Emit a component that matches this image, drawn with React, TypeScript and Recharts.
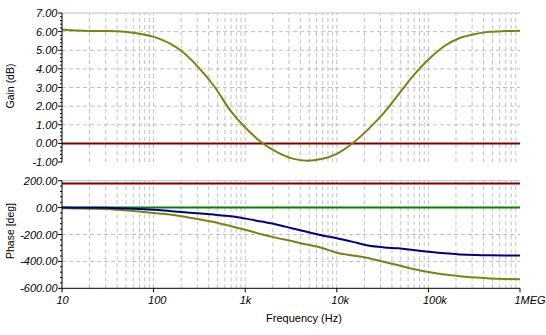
import React from "react";
import {
  LineChart,
  Line,
  XAxis,
  YAxis,
  ReferenceLine,
  Label,
} from "recharts";

// frequency points (Hz) the curves were read at
const FREQ = [
  10, 15, 20, 30, 40, 60, 100, 150, 200, 300, 450, 700, 1000, 1500, 2200, 3300,
  4700, 6800, 10000, 15000, 22000, 33000, 47000, 68000, 100000, 150000, 220000,
  330000, 470000, 680000, 1000000,
];

const GAIN_DB = [
  6.12, 6.06, 6.04, 6.03, 6.02, 5.94, 5.72, 5.37, 4.97, 4.15, 3.12, 1.72, 0.85,
  0.06, -0.46, -0.82, -0.93, -0.84, -0.56, 0.02, 0.75, 1.66, 2.62, 3.62, 4.5,
  5.23, 5.66, 5.88, 5.99, 6.03, 6.05,
];

const PHASE_BLUE = [
  0, -1, -1, -2, -4, -8, -16, -26, -33, -42, -52, -65, -82, -104, -125, -155,
  -180, -205, -228, -255, -282, -296, -303, -315, -328, -340, -348, -353, -355,
  -356, -356,
];

const PHASE_OLIVE = [
  -4, -6, -8, -11, -16, -25, -40, -52, -64, -85, -107, -138, -165, -198, -225,
  -250, -275, -298, -335, -356, -375, -405, -428, -457, -479, -498, -510, -520,
  -527, -531, -533,
];

const GAIN_REF = 0;
const PHASE_REF_HI = 180;
const PHASE_REF_ZERO = 0;

const FREQ_TICKS = [10, 100, 1000, 10000, 100000, 1000000];
const FREQ_LABELS = ["10", "100", "1k", "10k", "100k", "1MEG"];
const GAIN_TICKS = [-1, 0, 1, 2, 3, 4, 5, 6, 7];
const PHASE_TICKS = [-600, -400, -200, 0, 200];

const OLIVE = "#808010";
const RED = "#800000";
const NAVY = "#000080";
const GREEN = "#008000";
const GRID = "#c0c0c0";
const FONT = "'Liberation Sans', Arial, sans-serif";

const gainData = FREQ.map((f, i) => ({ f, gain: GAIN_DB[i] }));
const phaseData = FREQ.map((f, i) => ({
  f,
  blue: PHASE_BLUE[i],
  olive: PHASE_OLIVE[i],
}));

// log grid: 2..9 in each decade plus the decades themselves
const minorFreq: number[] = [];
for (let d = 10; d < 1000000; d *= 10) {
  for (let k = 1; k <= 9; k++) {
    if (d * k > 10) minorFreq.push(d * k);
  }
}

const subdivide = (major: number[], parts: number) => {
  const out: number[] = [];
  for (let i = 0; i < major.length - 1; i++) {
    const step = (major[i + 1] - major[i]) / parts;
    for (let k = 0; k < parts; k++) out.push(Math.round((major[i] + k * step) * 100) / 100);
  }
  out.push(major[major.length - 1]);
  return out;
};

const gainTickAll = subdivide(GAIN_TICKS, 5);
const phaseTickAll = subdivide(PHASE_TICKS, 5);

function YTick(props: any) {
  const { x, y, payload, majors } = props;
  const v = payload.value;
  const isMajor = majors.includes(v);
  return (
    <g>
      <line x1={x - (isMajor ? 4 : 2)} x2={x} y1={y} y2={y} stroke="#000" />
      {isMajor && (
        <text
          x={x - 4.5}
          y={y + 4}
          textAnchor="end"
          fontSize={11}
          fontStyle="italic"
          fontFamily={FONT}
          fill="#000"
        >
          {v.toFixed(2)}
        </text>
      )}
    </g>
  );
}

function XTick(props: any) {
  const { x, y, payload } = props;
  const idx = FREQ_TICKS.indexOf(payload.value);
  return (
    <text
      x={x - 5.5}
      y={y + 12}
      textAnchor="start"
      fontSize={11}
      fontStyle="italic"
      fontFamily={FONT}
      fill="#000"
    >
      {FREQ_LABELS[idx]}
    </text>
  );
}

const axisTitle = (text: string, x: number, y: number) => () => (
  <text
    x={x}
    y={y}
    transform={`rotate(-90, ${x}, ${y})`}
    textAnchor="middle"
    dominantBaseline="central"
    fontSize={10.5}
    fontFamily={FONT}
    fill="#000"
  >
    {text}
  </text>
);

const gridV = (key: string) =>
  minorFreq.map((f) => (
    <ReferenceLine
      key={key + f}
      x={f}
      stroke={f === 1000000 ? GRID : GRID}
      strokeDasharray={f === 1000000 ? undefined : "4 3"}
    />
  ));

export default function App() {
  return (
    <div style={{ position: "absolute", left: 0, top: 0, width: 546, height: 335, background: "#fff" }}>
      <LineChart
        width={546}
        height={170}
        data={gainData}
        margin={{ top: 13, right: 26, bottom: 8, left: 0 }}
      >
        <XAxis
          dataKey="f"
          type="number"
          scale="log"
          domain={[10, 1000000]}
          ticks={FREQ_TICKS}
          height={0}
          tick={false}
          tickLine={false}
          axisLine={{ stroke: "#000" }}
          allowDataOverflow
        />
        <YAxis
          type="number"
          domain={[-1, 7]}
          ticks={gainTickAll}
          interval={0}
          width={62}
          tickSize={0}
          tickMargin={0}
          tickLine={false}
          axisLine={{ stroke: "#000" }}
          tick={<YTick majors={GAIN_TICKS} />}
          allowDataOverflow
        >
          <Label content={axisTitle("Gain (dB)", 10, 86)} />
        </YAxis>
        {gridV("g")}
        {[1, 2, 3, 4, 5, 6].map((v) => (
          <ReferenceLine key={"h" + v} y={v} stroke={GRID} strokeDasharray="4 3" />
        ))}
        <ReferenceLine y={7} stroke={GRID} />
        <ReferenceLine y={GAIN_REF} stroke={RED} strokeWidth={2} />
        <Line
          dataKey="gain"
          type="monotone"
          stroke={OLIVE}
          strokeWidth={2}
          dot={false}
          isAnimationActive={false}
        />
      </LineChart>
      <LineChart
        width={546}
        height={165}
        data={phaseData}
        margin={{ top: 10.7, right: 26, bottom: 0, left: 0 }}
      >
        <XAxis
          dataKey="f"
          type="number"
          scale="log"
          domain={[10, 1000000]}
          ticks={FREQ_TICKS}
          interval={0}
          height={46.7}
          tickSize={4}
          tickMargin={0}
          tickLine={{ stroke: "#000" }}
          axisLine={{ stroke: "#000" }}
          tick={<XTick />}
          allowDataOverflow
        >
          <Label
            content={() => (
              <text
                x={304}
                y={151.5}
                textAnchor="middle"
                fontSize={11}
                fontFamily={FONT}
                fill="#000"
              >
                Frequency (Hz)
              </text>
            )}
          />
        </XAxis>
        <YAxis
          type="number"
          domain={[-600, 200]}
          ticks={phaseTickAll}
          interval={0}
          width={62}
          tickSize={0}
          tickMargin={0}
          tickLine={false}
          axisLine={{ stroke: "#000" }}
          tick={<YTick majors={PHASE_TICKS} />}
          allowDataOverflow
        >
          <Label content={axisTitle("Phase [deg]", 10, 61)} />
        </YAxis>
        {gridV("p")}
        {[-400, -200].map((v) => (
          <ReferenceLine key={"h" + v} y={v} stroke={GRID} strokeDasharray="4 3" />
        ))}
        <ReferenceLine y={200} stroke={GRID} />
        <ReferenceLine y={PHASE_REF_HI} stroke={RED} strokeWidth={2} />
        <ReferenceLine y={PHASE_REF_ZERO} stroke={GREEN} strokeWidth={2} />
        <Line
          dataKey="olive"
          type="monotone"
          stroke={OLIVE}
          strokeWidth={2}
          dot={false}
          isAnimationActive={false}
        />
        <Line
          dataKey="blue"
          type="monotone"
          stroke={NAVY}
          strokeWidth={2}
          dot={false}
          isAnimationActive={false}
        />
      </LineChart>
    </div>
  );
}
